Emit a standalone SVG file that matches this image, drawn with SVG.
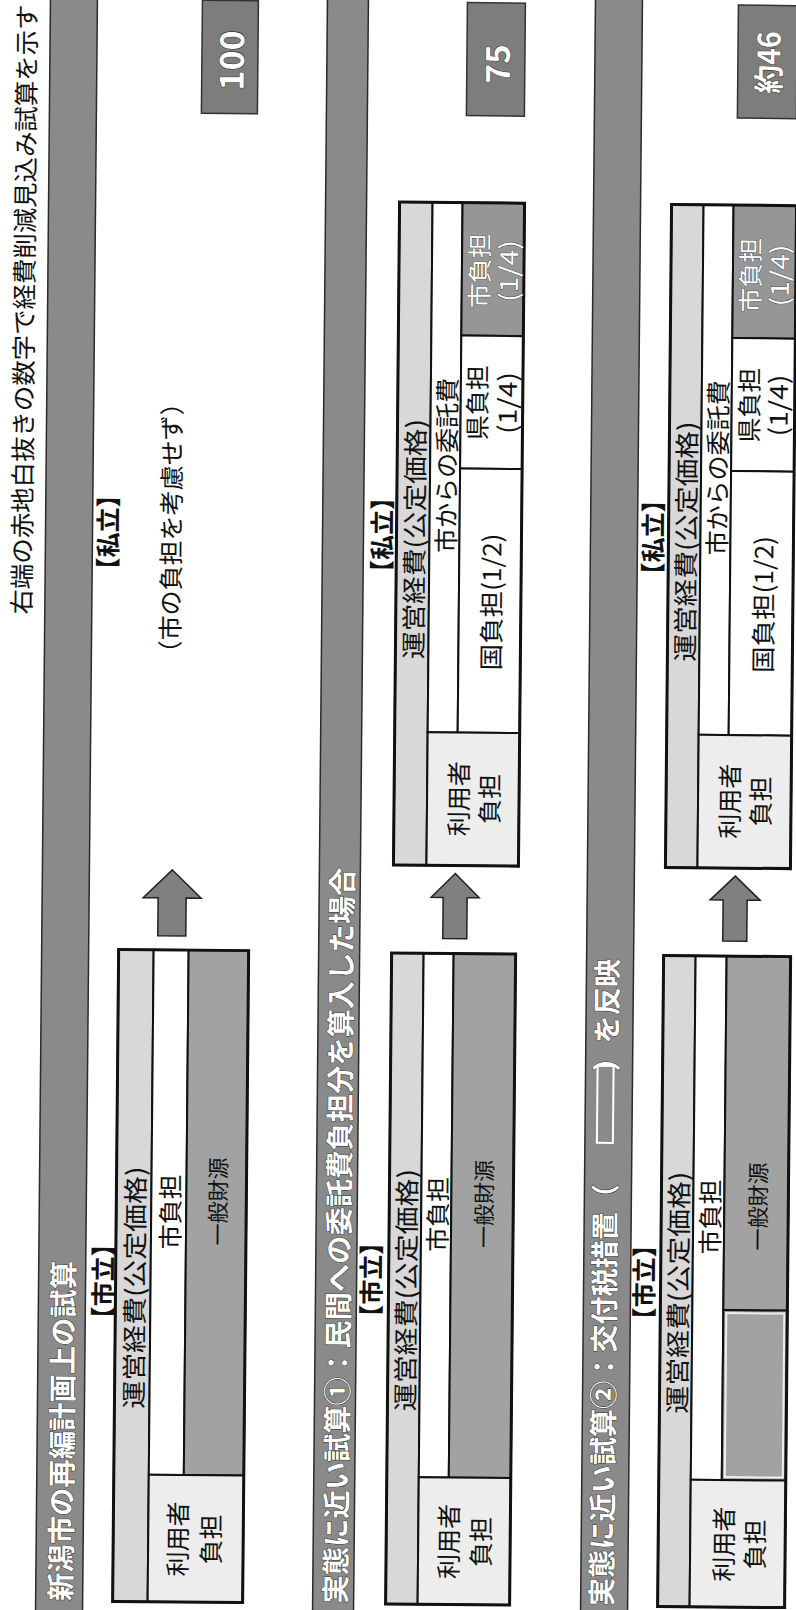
<svg xmlns="http://www.w3.org/2000/svg" width="796" height="1610" viewBox="0 0 796 1610">
<style>
text{font-family:"Noto Sans CJK JP","Noto Sans CJK SC",sans-serif;text-anchor:middle;dominant-baseline:central;fill:#111}
.bar{fill:#8a8a8a;stroke:#2a2a2a;stroke-width:1.5}
.ttl{font-size:28.5px;font-weight:bold;fill:#fff;stroke:#333;stroke-width:1;paint-order:stroke;text-anchor:start}
.badge{fill:#7d7d7d;stroke:#333;stroke-width:1.5}
.num{font-weight:bold;fill:#fff;stroke:#333;stroke-width:1;paint-order:stroke}
.lbl{font-size:25px;font-weight:bold;font-feature-settings:"halt" 1}
.note{font-size:25px}
.cell{stroke:#111;stroke-width:2}
.lt{fill:#d8d8d8}
.wh{fill:#fff}
.gr{fill:#a2a2a2}
.dk{fill:#969696}
.vl{fill:#ededed}
.box{fill:none;stroke:#111;stroke-width:3}
.c{font-size:25px}
.s{font-size:22px}
.w{fill:#fff;stroke:#444;stroke-width:0.8;paint-order:stroke}
.arrow{fill:#808080;stroke:#222;stroke-width:1.5}
</style>
<rect x="0" y="0" width="796" height="1610" fill="#fff"/>
<g transform="rotate(0.53 398 805)">
<g id="note">
<text class="note" x="18" y="313" textLength="610" lengthAdjust="spacingAndGlyphs" transform="rotate(-90 18 313)">右端の赤地白抜きの数字で経費削減見込み試算を示す</text>
</g>

<!-- Section 1 -->
<g id="s1-title">
<rect class="bar" x="43" y="-20" width="47" height="1650"/>
<text class="ttl" x="66" y="1604" textLength="340" lengthAdjust="spacingAndGlyphs" transform="rotate(-90 66 1604)">新潟市の再編計画上の試算</text>
</g>
<g id="s1-shiritsu-label"><text class="lbl" x="106" y="1284" transform="rotate(-90 106 1284)">【市立】</text></g>
<g id="s1-city">
<rect class="cell lt" x="120" y="952" width="35" height="652"/>
<rect class="cell wh" x="155" y="952" width="35" height="525"/>
<rect class="cell gr" x="190" y="952" width="60" height="525"/>
<rect class="cell vl" x="155" y="1477" width="95" height="127"/>
<rect class="box" x="120" y="952" width="130" height="652"/>
<text class="c" x="137.5" y="1290" textLength="242" lengthAdjust="spacingAndGlyphs" transform="rotate(-90 137.5 1290)">運営経費(公定価格)</text>
<text class="c" x="172.5" y="1214" transform="rotate(-90 172.5 1214)">市負担</text>
<text class="s" x="220" y="1203" transform="rotate(-90 220 1203)">一般財源</text>
<text class="c" x="183" y="1541" transform="rotate(-90 183 1541)">利用者</text>
<text class="c" x="216" y="1541" transform="rotate(-90 216 1541)">負担</text>
</g>
<g id="s1-private-label"><text class="lbl" x="104" y="535" transform="rotate(-90 104 535)">【私立】</text></g>
<g id="s1-private-note"><text class="c" x="167" y="530" transform="rotate(-90 167 530)">（市の負担を考慮せず）</text></g>
<g id="s1-badge">
<rect class="badge" x="195" y="2" width="56" height="113"/>
<text class="num" font-family="Liberation Sans, sans-serif" font-size="33" x="223" y="62" textLength="60" lengthAdjust="spacingAndGlyphs" transform="rotate(-90 223 62)">100</text>
</g>

<!-- Section 2 -->
<g id="s2-title">
<rect class="bar" x="320" y="-20" width="41" height="1650"/>
<text class="ttl" x="341" y="1604" textLength="736" lengthAdjust="spacingAndGlyphs" transform="rotate(-90 341 1604)">実態に近い試算①：民間への委託費負担分を算入した場合</text>
</g>
<g id="s2-shiritsu-label"><text class="lbl" x="374" y="1280" transform="rotate(-90 374 1280)">【市立】</text></g>
<g id="s2-city">
<rect class="cell lt" x="393" y="953" width="32" height="651"/>
<rect class="cell wh" x="425" y="953" width="30" height="524"/>
<rect class="cell gr" x="455" y="953" width="62" height="524"/>
<rect class="cell vl" x="425" y="1477" width="92" height="127"/>
<rect class="box" x="393" y="953" width="124" height="651"/>
<text class="c" x="409" y="1290" textLength="242" lengthAdjust="spacingAndGlyphs" transform="rotate(-90 409 1290)">運営経費(公定価格)</text>
<text class="c" x="440" y="1214" transform="rotate(-90 440 1214)">市負担</text>
<text class="s" x="486" y="1203" transform="rotate(-90 486 1203)">一般財源</text>
<text class="c" x="454" y="1541" transform="rotate(-90 454 1541)">利用者</text>
<text class="c" x="486" y="1541" transform="rotate(-90 486 1541)">負担</text>
</g>
<g id="s2-private-label"><text class="lbl" x="378" y="535" transform="rotate(-90 378 535)">【私立】</text></g>
<g id="s2-private">
<rect class="cell lt" x="394" y="202" width="33" height="663"/>
<rect class="cell wh" x="427" y="202" width="30" height="530"/>
<rect class="cell dk" x="457" y="202" width="62" height="133"/>
<rect class="cell wh" x="457" y="335" width="62" height="133"/>
<rect class="cell wh" x="457" y="468" width="62" height="264"/>
<rect class="cell vl" x="427" y="732" width="92" height="133"/>
<rect class="box" x="394" y="202" width="125" height="663"/>
<text class="c" x="410.5" y="539" textLength="240" lengthAdjust="spacingAndGlyphs" transform="rotate(-90 410.5 539)">運営経費(公定価格)</text>
<text class="c" x="442" y="465" transform="rotate(-90 442 465)">市からの委託費</text>
<text class="c w" x="473" y="270" transform="rotate(-90 473 270)">市負担</text>
<text class="c w" x="502" y="270" textLength="62" lengthAdjust="spacingAndGlyphs" transform="rotate(-90 502 270)">(1/4)</text>
<text class="c" x="472" y="402" transform="rotate(-90 472 402)">県負担</text>
<text class="c" x="502" y="402" textLength="62" lengthAdjust="spacingAndGlyphs" transform="rotate(-90 502 402)">(1/4)</text>
<text class="c" x="488" y="601" textLength="137" lengthAdjust="spacingAndGlyphs" transform="rotate(-90 488 601)">国負担(1/2)</text>
<text class="c" x="457" y="798" transform="rotate(-90 457 798)">利用者</text>
<text class="c" x="488" y="798" transform="rotate(-90 488 798)">負担</text>
</g>
<g id="s2-badge">
<rect class="badge" x="460" y="2" width="58" height="113"/>
<text class="num" font-family="Liberation Sans, sans-serif" font-size="33" x="489" y="63" transform="rotate(-90 489 63)">75</text>
</g>

<!-- Section 3 -->
<g id="s3-title">
<rect class="bar" x="588" y="-20" width="47" height="1650"/>
<text class="ttl" x="607" y="1604" textLength="647" lengthAdjust="spacingAndGlyphs" transform="rotate(-90 607 1604)">実態に近い試算②：交付税措置（　　　　）を反映</text>
<rect x="600" y="1064" width="16" height="77" fill="#8a8a8a" stroke="#fff" stroke-width="2"/>
</g>
<g id="s3-shiritsu-label"><text class="lbl" x="647" y="1280" transform="rotate(-90 647 1280)">【市立】</text></g>
<g id="s3-city">
<rect class="cell lt" x="665" y="953" width="32" height="651"/>
<rect class="cell wh" x="697" y="953" width="31" height="524"/>
<rect class="cell gr" x="728" y="953" width="64" height="354"/>
<rect class="cell gr" x="728" y="1307" width="64" height="170"/>
<rect x="731" y="1310" width="58" height="164" fill="none" stroke="#eee" stroke-width="2"/>
<rect class="cell vl" x="697" y="1477" width="95" height="127"/>
<rect class="box" x="665" y="953" width="127" height="651"/>
<text class="c" x="681" y="1290" textLength="242" lengthAdjust="spacingAndGlyphs" transform="rotate(-90 681 1290)">運営経費(公定価格)</text>
<text class="c" x="712.5" y="1214" transform="rotate(-90 712.5 1214)">市負担</text>
<text class="s" x="760" y="1203" transform="rotate(-90 760 1203)">一般財源</text>
<text class="c" x="729" y="1541" transform="rotate(-90 729 1541)">利用者</text>
<text class="c" x="760" y="1541" transform="rotate(-90 760 1541)">負担</text>
</g>
<g id="s3-private-label"><text class="lbl" x="649" y="535" transform="rotate(-90 649 535)">【私立】</text></g>
<g id="s3-private">
<rect class="cell lt" x="666" y="202" width="32" height="663"/>
<rect class="cell wh" x="698" y="202" width="30" height="530"/>
<rect class="cell dk" x="728" y="202" width="63" height="133"/>
<rect class="cell wh" x="728" y="335" width="63" height="133"/>
<rect class="cell wh" x="728" y="468" width="63" height="264"/>
<rect class="cell vl" x="698" y="732" width="93" height="133"/>
<rect class="box" x="666" y="202" width="125" height="663"/>
<text class="c" x="682" y="539" textLength="240" lengthAdjust="spacingAndGlyphs" transform="rotate(-90 682 539)">運営経費(公定価格)</text>
<text class="c" x="713" y="465" transform="rotate(-90 713 465)">市からの委託費</text>
<text class="c w" x="744" y="272" transform="rotate(-90 744 272)">市負担</text>
<text class="c w" x="773" y="272" textLength="62" lengthAdjust="spacingAndGlyphs" transform="rotate(-90 773 272)">(1/4)</text>
<text class="c" x="744" y="402" transform="rotate(-90 744 402)">県負担</text>
<text class="c" x="773" y="402" textLength="62" lengthAdjust="spacingAndGlyphs" transform="rotate(-90 773 402)">(1/4)</text>
<text class="c" x="760" y="601" textLength="137" lengthAdjust="spacingAndGlyphs" transform="rotate(-90 760 601)">国負担(1/2)</text>
<text class="c" x="728" y="798" transform="rotate(-90 728 798)">利用者</text>
<text class="c" x="759" y="798" transform="rotate(-90 759 798)">負担</text>
</g>
<g id="s3-badge">
<rect class="badge" x="731" y="2" width="59" height="113"/>
<text class="num" font-size="31" x="760" y="59" textLength="62" lengthAdjust="spacingAndGlyphs" transform="rotate(-90 760 59)">約46</text>
</g>

<g id="connectors">
<polygon class="arrow" points="173,872 202,900 187,900 187,938 159,938 159,900 144,900"/>
<polygon class="arrow" points="456,873 480,897 468,897 468,938 444,938 444,897 432,897"/>
<polygon class="arrow" points="736,873 761,897 748,897 748,938 724,938 724,897 711,897"/>
</g>
</g>
</svg>
